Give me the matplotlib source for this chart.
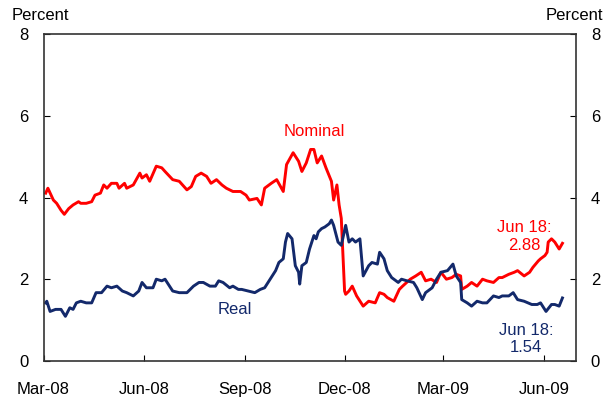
import pandas as pd
import matplotlib
matplotlib.use("Agg")
import matplotlib.pyplot as plt
import matplotlib.dates as mdates

plt.rcParams["font.family"] = ["Liberation Sans", "DejaVu Sans"]

# === Data ===

nominal_dates = [
    "2008-03-03", "2008-03-05", "2008-03-10", "2008-03-13", "2008-03-17", "2008-03-20",
    "2008-03-24", "2008-03-28", "2008-04-02", "2008-04-04", "2008-04-09", "2008-04-14",
    "2008-04-17", "2008-04-22", "2008-04-25", "2008-04-28", "2008-05-02", "2008-05-07",
    "2008-05-09", "2008-05-14", "2008-05-16", "2008-05-22", "2008-05-28", "2008-05-30",
    "2008-06-03", "2008-06-06", "2008-06-12", "2008-06-17", "2008-06-20", "2008-06-27",
    "2008-07-03", "2008-07-10", "2008-07-14", "2008-07-18", "2008-07-23", "2008-07-28",
    "2008-08-01", "2008-08-06", "2008-08-11", "2008-08-15", "2008-08-21", "2008-08-28",
    "2008-09-02", "2008-09-05", "2008-09-12", "2008-09-16", "2008-09-19", "2008-09-25",
    "2008-09-30", "2008-10-06", "2008-10-09", "2008-10-15", "2008-10-20", "2008-10-23",
    "2008-10-27", "2008-10-31", "2008-11-03", "2008-11-06", "2008-11-10", "2008-11-14",
    "2008-11-19", "2008-11-21", "2008-11-24", "2008-11-26", "2008-11-28", "2008-12-01",
    "2008-12-02", "2008-12-05", "2008-12-08", "2008-12-12", "2008-12-18", "2008-12-23",
    "2008-12-29", "2009-01-02", "2009-01-06", "2009-01-09", "2009-01-15", "2009-01-20",
    "2009-01-23", "2009-01-30", "2009-02-04", "2009-02-09", "2009-02-13", "2009-02-18",
    "2009-02-23", "2009-02-27", "2009-03-04", "2009-03-09", "2009-03-13", "2009-03-17",
    "2009-03-18", "2009-03-23", "2009-03-27", "2009-04-01", "2009-04-06", "2009-04-10",
    "2009-04-16", "2009-04-21", "2009-04-24", "2009-04-30", "2009-05-05", "2009-05-08",
    "2009-05-14", "2009-05-19", "2009-05-22", "2009-05-27", "2009-05-29", "2009-06-02",
    "2009-06-04", "2009-06-05", "2009-06-08", "2009-06-11", "2009-06-15", "2009-06-18",
]
nominal_values = [
    4.11, 4.23, 3.94, 3.86, 3.69, 3.59,
    3.73, 3.82, 3.90, 3.86, 3.86, 3.90,
    4.06, 4.11, 4.31, 4.23, 4.35, 4.35,
    4.23, 4.35, 4.23, 4.31, 4.60, 4.48,
    4.56, 4.40, 4.77, 4.73, 4.64, 4.44,
    4.40, 4.19, 4.27, 4.52, 4.60, 4.52,
    4.35, 4.44, 4.31, 4.23, 4.15, 4.15,
    4.06, 3.94, 3.98, 3.82, 4.23, 4.35,
    4.44, 4.15, 4.81, 5.10, 4.89, 4.64,
    4.85, 5.18, 5.18, 4.85, 5.02, 4.73,
    4.40, 3.94, 4.31, 3.82, 3.49, 1.71,
    1.63, 1.71, 1.83, 1.59, 1.34, 1.46,
    1.42, 1.67, 1.63, 1.55, 1.46, 1.75,
    1.83, 2.00, 2.08, 2.17, 1.96, 2.00,
    1.92, 2.17, 2.00, 2.04, 2.12, 2.08,
    1.75, 1.83, 1.92, 1.83, 2.00, 1.96,
    1.92, 2.04, 2.04, 2.12, 2.17, 2.21,
    2.08, 2.17, 2.29, 2.45, 2.50, 2.58,
    2.66, 2.91, 2.99, 2.91, 2.74, 2.88,
]

real_dates = [
    "2008-03-03", "2008-03-04", "2008-03-07", "2008-03-12", "2008-03-17", "2008-03-21",
    "2008-03-25", "2008-03-28", "2008-03-31", "2008-04-04", "2008-04-09", "2008-04-14",
    "2008-04-18", "2008-04-23", "2008-04-28", "2008-05-02", "2008-05-07", "2008-05-12",
    "2008-05-16", "2008-05-22", "2008-05-27", "2008-05-30", "2008-06-03", "2008-06-09",
    "2008-06-12", "2008-06-17", "2008-06-20", "2008-06-27", "2008-07-03", "2008-07-10",
    "2008-07-16", "2008-07-21", "2008-07-25", "2008-07-31", "2008-08-05", "2008-08-08",
    "2008-08-12", "2008-08-18", "2008-08-21", "2008-08-26", "2008-08-29", "2008-09-04",
    "2008-09-10", "2008-09-15", "2008-09-19", "2008-09-24", "2008-09-29", "2008-10-02",
    "2008-10-06", "2008-10-08", "2008-10-10", "2008-10-14", "2008-10-17", "2008-10-20",
    "2008-10-21", "2008-10-23", "2008-10-27", "2008-10-30", "2008-11-03", "2008-11-05",
    "2008-11-07", "2008-11-10", "2008-11-13", "2008-11-17", "2008-11-19", "2008-11-21",
    "2008-11-25", "2008-11-28", "2008-12-02", "2008-12-05", "2008-12-08", "2008-12-11",
    "2008-12-15", "2008-12-18", "2008-12-23", "2008-12-26", "2008-12-31", "2009-01-02",
    "2009-01-06", "2009-01-09", "2009-01-13", "2009-01-19", "2009-01-22", "2009-01-27",
    "2009-02-02", "2009-02-05", "2009-02-10", "2009-02-13", "2009-02-19", "2009-02-23",
    "2009-02-27", "2009-03-05", "2009-03-10", "2009-03-13", "2009-03-17", "2009-03-18",
    "2009-03-23", "2009-03-27", "2009-04-01", "2009-04-06", "2009-04-10", "2009-04-16",
    "2009-04-21", "2009-04-24", "2009-04-30", "2009-05-04", "2009-05-08", "2009-05-14",
    "2009-05-21", "2009-05-26", "2009-05-29", "2009-06-03", "2009-06-08", "2009-06-11",
    "2009-06-15", "2009-06-18",
]
real_values = [
    1.42, 1.46, 1.21, 1.26, 1.26, 1.09,
    1.30, 1.26, 1.42, 1.46, 1.42, 1.42,
    1.67, 1.67, 1.83, 1.79, 1.83, 1.71,
    1.67, 1.59, 1.71, 1.92, 1.79, 1.79,
    2.00, 1.96, 2.00, 1.71, 1.67, 1.67,
    1.83, 1.92, 1.92, 1.83, 1.83, 1.96,
    1.92, 1.79, 1.83, 1.75, 1.75, 1.71,
    1.67, 1.75, 1.79, 2.00, 2.21, 2.41,
    2.50, 2.91, 3.12, 2.99, 2.33, 2.17,
    1.88, 2.33, 2.41, 2.74, 3.07, 2.99,
    3.16, 3.24, 3.28, 3.36, 3.45, 3.32,
    2.91, 2.83, 3.32, 2.91, 2.99, 2.91,
    2.99, 2.08, 2.33, 2.41, 2.37, 2.66,
    2.50, 2.21, 2.04, 1.92, 2.00, 1.96,
    1.92, 1.79, 1.50, 1.67, 1.79, 2.00,
    2.17, 2.21, 2.37, 2.08, 1.92, 1.50,
    1.42, 1.34, 1.46, 1.42, 1.42, 1.59,
    1.55, 1.59, 1.59, 1.67, 1.50, 1.46,
    1.38, 1.38, 1.42, 1.21, 1.38, 1.38,
    1.34, 1.54,
]

x_ticks = ["2008-03-01", "2008-06-01", "2008-09-01", "2008-12-01", "2009-03-01", "2009-06-01"]
y_ticks = [0, 2, 4, 6, 8]

RED = "#ff0000"
NAVY = "#13296b"

# === Plot ===

fig = plt.figure(figsize=(6.06, 4.0), dpi=100)
ax = fig.add_axes([0.0718, 0.098, 0.878, 0.816])

ax.plot(pd.to_datetime(nominal_dates), nominal_values, color=RED, lw=2.1)
ax.plot(pd.to_datetime(real_dates), real_values, color=NAVY, lw=2.1)

ax.set_xlim(pd.Timestamp("2008-03-01"), pd.Timestamp("2009-06-30"))
ax.set_ylim(0, 8)
ax.set_xticks(pd.to_datetime(x_ticks))
ax.xaxis.set_major_formatter(mdates.DateFormatter("%b-%y"))
ax.set_yticks(y_ticks)

ax.tick_params(axis="x", direction="in", length=4, pad=15, labelsize=12)
ax.tick_params(axis="y", direction="in", length=4, pad=11, labelsize=12,
               right=True, labelright=True)
for s in ax.spines.values():
    s.set_linewidth(1.2)
    s.set_color("#333333")

fig.text(0.02, 0.962, "Percent", fontsize=12, ha="left", va="center")
fig.text(0.995, 0.962, "Percent", fontsize=12, ha="right", va="center")

ax.text(pd.Timestamp("2008-11-03"), 5.62, "Nominal", color=RED, fontsize=12, ha="center", va="center")
ax.text(pd.Timestamp("2008-08-23"), 1.25, "Real", color=NAVY, fontsize=12, ha="center", va="center")
ax.text(pd.Timestamp("2009-05-14"), 3.05, "Jun 18:\n2.88", color=RED, fontsize=12,
        ha="center", va="center", multialignment="center", linespacing=1.2)
ax.text(pd.Timestamp("2009-05-16"), 0.54, "Jun 18:\n1.54", color=NAVY, fontsize=12,
        ha="center", va="center", multialignment="center", linespacing=1.2)

plt.savefig("out.png", dpi=100)
